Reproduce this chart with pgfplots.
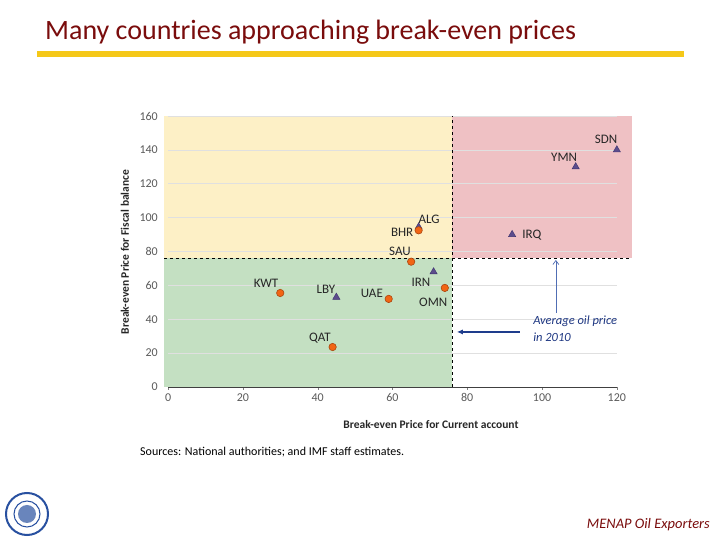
\documentclass[border=0pt]{standalone}
\usepackage{pgfplots}
\pgfplotsset{compat=1.18}
\usepackage{fontspec}
\setmainfont{Carlito}
\usetikzlibrary{arrows.meta}
\definecolor{fillyellow}{RGB}{253,240,198}
\definecolor{fillred}{RGB}{239,193,196}
\definecolor{fillgreen}{RGB}{196,224,194}
\definecolor{orangefill}{RGB}{242,101,20}
\definecolor{orangeedge}{RGB}{170,70,15}
\definecolor{purplefill}{RGB}{92,76,140}
\definecolor{purpleedge}{RGB}{60,50,110}
\definecolor{arrowblueA}{RGB}{80,110,180}
\definecolor{arrowblueB}{RGB}{30,60,140}
\definecolor{textblue}{RGB}{30,55,130}
\definecolor{titlered}{RGB}{122,12,12}
\definecolor{gold}{RGB}{245,200,24}
\definecolor{ticklabel}{RGB}{90,90,90}
\definecolor{imfblue}{RGB}{40,80,160}
\begin{document}
\begin{tikzpicture}[x=1pt,y=1pt]
\path[fill=white] (0,0) rectangle (720,540);
% title
\node[anchor=base west, inner sep=0pt, text=titlered, font=\fontsize{28}{32}\selectfont] at (45,500) {Many countries approaching break-even prices};
\fill[gold] (37,483) rectangle (684,489);
% axis
\begin{axis}[
  at={(164.3pt,153pt)}, anchor=south west, scale only axis,
  width=467.5pt, height=271pt,
  xmin=-1, xmax=124, ymin=0, ymax=160,
  xtick={0,20,...,120}, ytick={0,20,...,160},
  axis x line=bottom, axis y line=left,
  x axis line style={draw=none,-}, y axis line style={draw=none,-},
  tick align=outside, major tick length=3pt,
  xtick style={color=gray},
  ytick style={draw=none},
  ticklabel style={font=\fontsize{12}{14}\selectfont, text=ticklabel},
  /pgf/number format/assume math mode=true,
  clip=false,
]
\addplot[fill=fillyellow, draw=none] coordinates {(-1,76) (76,76) (76,160) (-1,160)} -- cycle;
\addplot[fill=fillred, draw=none] coordinates {(76,76) (124,76) (124,160) (76,160)} -- cycle;
\addplot[fill=fillgreen, draw=none] coordinates {(-1,0) (76,0) (76,76) (-1,76)} -- cycle;
% grid
\pgfplotsinvokeforeach{20,40,...,160}{\addplot[black!12, line width=0.6pt] coordinates {(0,#1) (120,#1)};}
% x axis line
\addplot[black!75, line width=0.8pt] coordinates {(0,0) (120,0)};
% dashed lines
\addplot[black, dashed, line width=0.9pt] coordinates {(76,0) (76,160)};
\addplot[black, dashed, line width=0.9pt] coordinates {(-1,76) (124,76)};
% data
\addplot[only marks, mark=triangle*, mark size=4.2pt, draw=purpleedge, fill=purplefill, line width=0.4pt]
  coordinates {(45,53) (71,68) (67,94.5) (92,90) (109,130) (120,140)};
\addplot[only marks, mark=*, mark size=3.7pt, draw=orangeedge, fill=orangefill, line width=0.6pt]
  coordinates {(30,55.5) (44,23.6) (59,52) (74,58.5) (65,74) (67,92.5)};
% labels
\begin{scope}[every node/.style={font=\fontsize{13}{15}\selectfont, text=black!85, inner sep=0pt}]
\node at (axis cs:26.2,61.4) {KWT};
\node at (axis cs:42.2,57.9) {LBY};
\node at (axis cs:54.5,55.5) {UAE};
\node at (axis cs:40.6,28.9) {QAT};
\node at (axis cs:70.9,50.2) {OMN};
\node at (axis cs:67.6,62) {IRN};
\node at (axis cs:62,80.3) {SAU};
\node at (axis cs:62.6,91.5) {BHR};
\node at (axis cs:69.8,99.2) {ALG};
\node at (axis cs:97.3,89.7) {IRQ};
\node at (axis cs:105.9,135.8) {YMN};
\node at (axis cs:117.1,146.4) {SDN};
\end{scope}
% arrows
\draw[-{Straight Barb[length=4pt,width=6pt]}, arrowblueA, line width=0.7pt] (axis cs:103.7,43.7) -- (axis cs:103.7,75);
\draw[-{Latex[length=6pt,width=5pt]}, arrowblueB, line width=1.4pt] (axis cs:94,32.5) -- (axis cs:77.2,32.5);
\node[anchor=west, align=left, inner sep=0pt, text=textblue, font=\itshape\fontsize{12.5}{17}\selectfont] at (axis cs:97.6,34.5) {Average oil price\\in 2010};
\end{axis}
% axis labels
\node[font=\bfseries\fontsize{11.5}{13}\selectfont, text=black!85] at (431,115) {Break-even Price for Current account};
\node[rotate=90, font=\bfseries\fontsize{11.5}{13}\selectfont, text=black!85] at (125,288) {Break-even Price for Fiscal balance};
% sources
\node[anchor=base west, inner sep=0pt, font=\fontsize{12}{14}\selectfont] at (140,84) {Sources: National authorities; and IMF staff estimates.};
% footer
\node[anchor=base east, inner sep=0pt, text=titlered, font=\itshape\fontsize{14.5}{17}\selectfont] at (710,11) {MENAP Oil Exporters};
% logo
\draw[imfblue, line width=2pt] (27,26) circle (21);
\draw[imfblue, line width=1pt] (27,26) circle (13);
\fill[imfblue!70] (27,26) circle (9);
\end{tikzpicture}
\end{document}
